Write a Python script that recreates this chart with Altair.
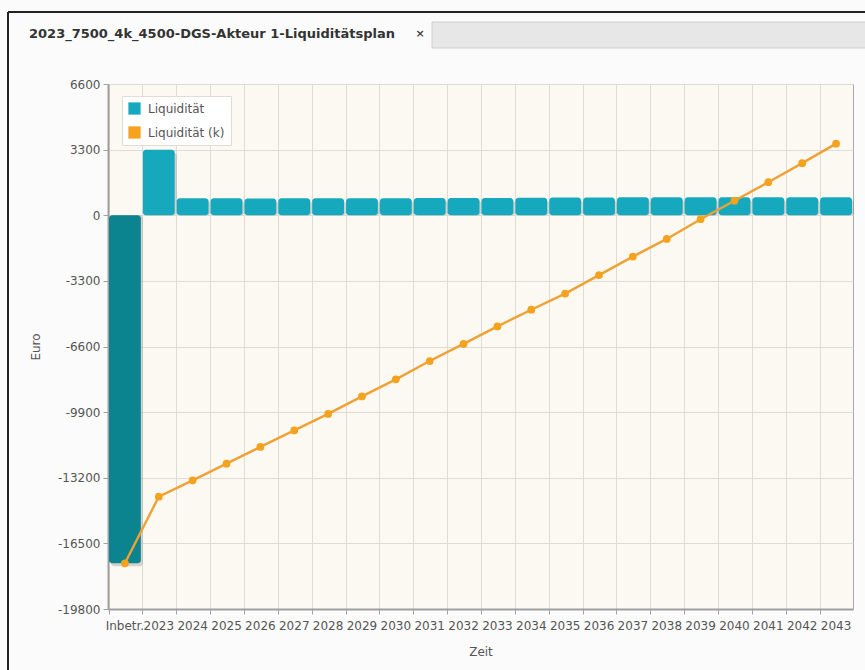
import altair as alt
import pandas as pd

# ---- data ----
categories = ["Inbetr.", "2023", "2024", "2025", "2026", "2027", "2028", "2029", "2030",
              "2031", "2032", "2033", "2034", "2035", "2036", "2037", "2038", "2039",
              "2040", "2041", "2042", "2043"]
liquiditaet = [-17500, 3300, 850, 850, 845, 850, 850, 855, 860,
               865, 870, 870, 880, 890, 895, 900, 900, 900,
               905, 905, 910, 910]
liquiditaet_k = [-17500, -14150, -13330, -12490, -11650, -10820, -9990, -9110, -8250,
                 -7330, -6470, -5590, -4750, -3940, -3010, -2080, -1190, -200,
                 730, 1660, 2620, 3600]
y_ticks = [-19800, -16500, -13200, -9900, -6600, -3300, 0, 3300, 6600]
series_names = ["Liquidität", "Liquidität (k)"]
tab_title = "2023_7500_4k_4500-DGS-Akteur 1-Liquiditätsplan"

bar_df = pd.DataFrame({"cat": categories, "value": liquiditaet, "series": series_names[0]})
line_df = pd.DataFrame({"cat": categories, "value": liquiditaet_k, "series": series_names[1]})

FONT = "DejaVu Sans"
CYAN = "#16A9BD"
DARK = "#0B8490"
ORANGE = "#F5A31E"

x_enc = alt.X("cat:N", sort=categories,
              scale=alt.Scale(paddingInner=0.06, paddingOuter=0.03),
              axis=alt.Axis(title="Zeit", bandPosition=0, labelAngle=0,
                            grid=True, gridColor="#E0DBD5", tickSize=5, tickColor="#A0A0A0",
                            domainColor="#A0A0A0", domainWidth=2, labelPadding=6,
                            labelOverlap=False, labelBound=False, labelFontSize=12,
                            labelColor="#555555", titleFontSize=12, titleFontWeight="normal",
                            titleColor="#555555", titlePadding=15, labelFont=FONT, titleFont=FONT))
y_enc = alt.Y("value:Q",
              scale=alt.Scale(domain=[-19800, 6600], nice=False, zero=False),
              axis=alt.Axis(title="Euro", values=y_ticks, labelExpr="'' + datum.value",
                            grid=True, gridColor="#E0DBD5", tickSize=5, tickColor="#A0A0A0",
                            domainColor="#A0A0A0", domainWidth=2, labelPadding=3,
                            labelFontSize=12, labelColor="#555555", titleFontSize=12,
                            titleFontWeight="normal", titleColor="#555555", titleX=-66,
                            labelFont=FONT, titleFont=FONT))

shadow = alt.Chart(bar_df).mark_bar(color="#7a7a7a", opacity=0.3, cornerRadius=3,
                                     xOffset=2, yOffset=3).encode(
    x=x_enc, y=y_enc, y2=alt.datum(0))

bars = alt.Chart(bar_df).mark_bar(cornerRadius=3).encode(
    x=x_enc, y=y_enc, y2=alt.datum(0),
    color=alt.condition(
        "datum.cat == 'Inbetr.'",
        alt.value(DARK),
        alt.Color("series:N",
                  scale=alt.Scale(domain=series_names, range=[CYAN, ORANGE]),
                  legend=alt.Legend(title=None, orient="none", legendX=14, legendY=12,
                                    symbolType="square", symbolSize=150, symbolStrokeWidth=0,
                                    symbolOpacity=1, labelFontSize=12, labelColor="#555555",
                                    labelFont=FONT, rowPadding=11, padding=6,
                                    fillColor="#FFFFFF", strokeColor="#E2DCD6",
                                    labelOffset=7))))

line = alt.Chart(line_df).mark_line(color="#EFA133", strokeWidth=2.4).encode(x=x_enc, y=y_enc)
points = alt.Chart(line_df).mark_point(filled=True, color=ORANGE, size=60, opacity=1).encode(
    x=x_enc, y=y_enc)

one = alt.Data(values=[{"k": 1}])
frame_left = alt.Chart(one).mark_rule(color="#222222", strokeWidth=2).encode(
    x=alt.value(-100), y=alt.value(-72), y2=alt.value(590))
frame_top = alt.Chart(one).mark_rule(color="#222222", strokeWidth=2).encode(
    x=alt.value(-100), x2=alt.value(760), y=alt.value(-72))
tab_bar = alt.Chart(one).mark_rect(color="#E7E7E7", stroke="#CFCFCF", strokeWidth=1).encode(
    x=alt.value(324), x2=alt.value(760), y=alt.value(-62), y2=alt.value(-36))
tab_text = alt.Chart(one).mark_text(align="left", baseline="middle", font=FONT,
                                    fontSize=13, fontWeight="bold", color="#333333").encode(
    x=alt.value(-79), y=alt.value(-50), text=alt.value(tab_title))
tab_close = alt.Chart(one).mark_text(align="center", baseline="middle", font=FONT,
                                     fontSize=11, fontWeight="bold", color="#444444").encode(
    x=alt.value(312), y=alt.value(-50), text=alt.value("×"))

chart = alt.layer(frame_left, frame_top, tab_bar, tab_text, tab_close,
                  shadow, bars, line, points).properties(
    width=745, height=525,
    padding={"left": 108, "top": 84, "right": 12, "bottom": 61},
    autosize=alt.AutoSizeParams(type="none"),
    background="#FBFBFB",
).configure_view(fill="#FCF8F2", stroke="#A8A8A8", strokeWidth=1)

chart.save("out.html", embed_options={"renderer": "svg", "actions": False})
